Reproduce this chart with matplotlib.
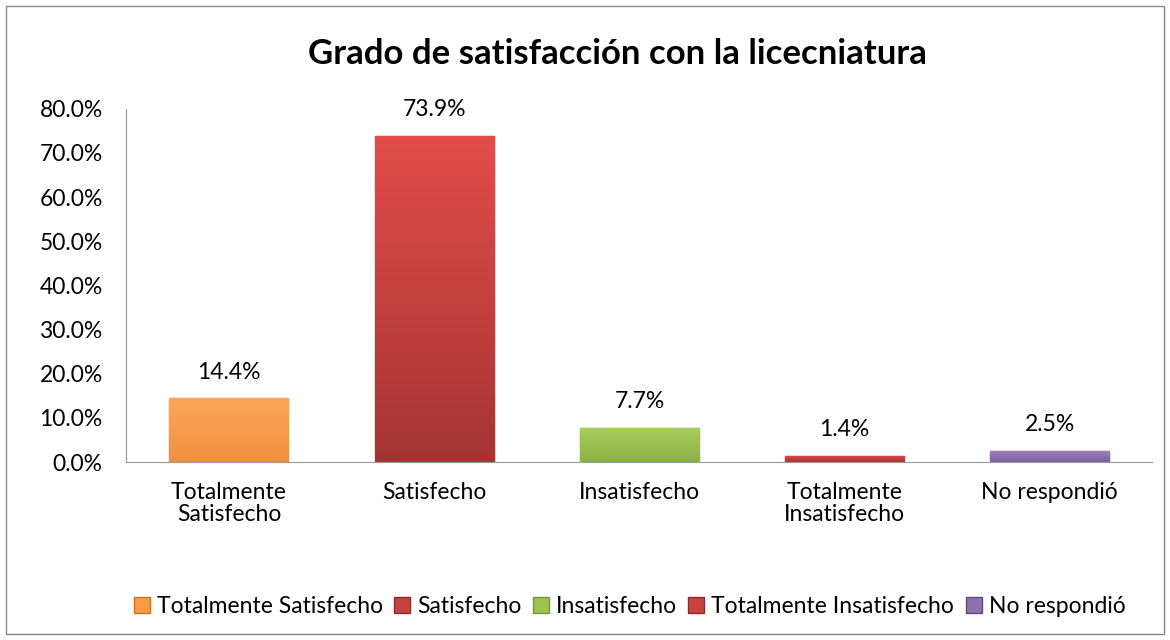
import numpy as np
import matplotlib.pyplot as plt
from matplotlib.patches import Rectangle
from matplotlib.colors import LinearSegmentedColormap

plt.rcParams['font.family'] = ['Lato', 'DejaVu Sans']

# datos
categorias = ["Totalmente\nSatisfecho", "Satisfecho", "Insatisfecho", "Totalmente\nInsatisfecho", "No respondió"]
leyenda = ["Totalmente Satisfecho", "Satisfecho", "Insatisfecho", "Totalmente Insatisfecho", "No respondió"]
valores = [14.4, 73.9, 7.7, 1.4, 2.5]
colores = ["#F99B45", "#C8423F", "#9DC24F", "#C8423F", "#8C70B0"]
claros = ["#FBA658", "#E24D4A", "#AACD5E", "#E24D4A", "#9D82C2"]
oscuros = ["#F0913D", "#A53533", "#8DB046", "#A53533", "#7C619E"]
bordes = ["#C9752C", "#8E2B29", "#76943A", "#8E2B29", "#5F4A7C"]

fig = plt.figure(figsize=(11.7, 6.4), dpi=100)
ax = fig.add_axes([0.108, 0.278, 0.877, 0.552])

x = np.arange(len(valores))
bars = ax.bar(x, valores, width=0.58, color=colores, edgecolor=bordes, linewidth=1.0, zorder=2)

# degradado vertical en cada barra
for b, c1, c2 in zip(bars, claros, oscuros):
    bx, by = b.get_x(), b.get_y()
    w, h = b.get_width(), b.get_height()
    cmap = LinearSegmentedColormap.from_list("g", [c2, c1])
    grad = np.linspace(0, 1, 64).reshape(-1, 1)
    im = ax.imshow(grad, extent=[bx, bx + w, by, by + h], origin='lower', cmap=cmap,
                   aspect='auto', zorder=2.5)
    im.set_clip_path(b)

for xi, v in zip(x, valores):
    ax.text(xi, v + 3.6, f"{v:.1f}%", ha='center', va='bottom', fontsize=16.5)

ax.set_xlim(-0.5, len(valores) - 0.5)
ax.set_ylim(0, 80)
ax.set_yticks(np.arange(0, 81, 10))
ax.set_yticklabels([f"{t:.1f}%" for t in np.arange(0, 81, 10)], fontsize=16.5)
ax.set_xticks(x)
ax.set_xticklabels(categorias, fontsize=16.5, linespacing=1.1)
ax.tick_params(axis='x', length=0, pad=14)
ax.tick_params(axis='y', length=0, pad=17)
for s in ['top', 'right']:
    ax.spines[s].set_visible(False)
ax.spines['left'].set_color('#999999')
ax.spines['bottom'].set_color('#999999')

fig.text(0.528, 0.915, "Grado de satisfacción con la licecniatura", ha='center', va='center',
         fontsize=25, fontweight='bold')

handles = [Rectangle((0, 0), 1, 1, facecolor=c, edgecolor=o) for c, o in zip(colores, bordes)]
fig.legend(handles, leyenda, loc='center', bbox_to_anchor=(0.538, 0.053), ncol=5, frameon=False,
           fontsize=16.5, handlelength=0.7, handleheight=0.7, handletextpad=0.3, columnspacing=0.5)

fig.patches.append(Rectangle((6 / 1170, 6 / 640), 1158 / 1170, 628 / 640, transform=fig.transFigure,
                             fill=False, edgecolor='#888888', linewidth=1.0))

fig.savefig("out.png", dpi=100)
